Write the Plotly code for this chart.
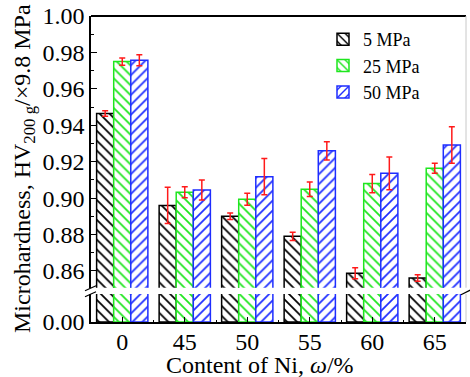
import plotly.graph_objects as go

categories = ["0", "45", "50", "55", "60", "65"]
series_names = ["5 MPa", "25 MPa", "50 MPa"]
hv_5 = [0.9465, 0.896, 0.890, 0.879, 0.8588, 0.8561]
hv_25 = [0.975, 0.9032, 0.8994, 0.9049, 0.908, 0.9164]
hv_50 = [0.9757, 0.9045, 0.9118, 0.926, 0.9136, 0.9292]
err_5 = [0.0015, 0.010, 0.0018, 0.0022, 0.003, 0.0018]
err_25 = [0.002, 0.003, 0.0033, 0.004, 0.005, 0.0027]
err_50 = [0.003, 0.0055, 0.010, 0.005, 0.009, 0.010]

values = [hv_5, hv_25, hv_50]
errors = [err_5, err_25, err_50]
colors = ["#000000", "#1ee61e", "#1e2dff"]
shapes_pat = ["\\", "\\", "/"]

FONT = "Times New Roman"
xpos = list(range(len(categories)))

fig = go.Figure()
for i in range(3):
    common = dict(
        x=xpos, y=values[i], offsetgroup=str(i),
        marker=dict(color="white", line=dict(color=colors[i], width=1.5),
                    pattern=dict(shape=shapes_pat[i], fgcolor=colors[i], bgcolor="white",
                                 size=7, solidity=0.25)),
    )
    fig.add_trace(go.Bar(name=series_names[i], xaxis="x", yaxis="y",
                         error_y=dict(type="data", array=errors[i], color="#ff1a1a",
                                      thickness=1.5, width=3),
                         **common))
    fig.add_trace(go.Bar(name=series_names[i], xaxis="x", yaxis="y2",
                         showlegend=False, **common))

L = 91; R = 466; T = 16; B = 322.3
W = 470; H = 377
pw = R - L; ph = B - T
top_lo = (B - 288) / ph
bot_hi = (B - 294.3) / ph

def px2x(px):
    return (px - L) / pw

def px2y(py):
    return (B - py) / ph

fig.update_layout(
    template="none",
    width=W, height=H,
    margin=dict(l=L, r=W - R, t=T, b=H - B),
    paper_bgcolor="white", plot_bgcolor="white",
    barmode="group", bargap=0.18, bargroupgap=0,
    font=dict(family=FONT, size=24, color="black"),
    showlegend=True,
    legend=dict(x=px2x(323), y=px2y(21), xanchor="left", yanchor="top",
                bgcolor="rgba(0,0,0,0)", font=dict(family=FONT, size=18, color="black"),
                tracegroupgap=0, itemwidth=30),
    xaxis=dict(
        anchor="y2", range=[-0.5, 5.5], tickvals=xpos, ticktext=categories,
        showline=True, linecolor="black", linewidth=1.5,
        ticks="inside", ticklen=5, tickwidth=1, tickcolor="black",
        minor=dict(tick0=0.5, dtick=1, ticks="inside", ticklen=2, tickcolor="black"),
        showgrid=False, zeroline=False, ticklabelstandoff=-3,
        tickfont=dict(family=FONT, size=24),
    ),
    yaxis=dict(
        domain=[top_lo, 1], range=[0.8508, 1.0], tickvals=[0.86, 0.88, 0.90, 0.92, 0.94, 0.96, 0.98, 1.00],
        tickformat=".2f", showline=True, linecolor="black", linewidth=1.5,
        ticks="inside", ticklen=6, tickwidth=1, tickcolor="black",
        minor=dict(dtick=0.01, tick0=0, ticks="inside", ticklen=3, tickcolor="black"),
        showgrid=False, zeroline=False, tickfont=dict(family=FONT, size=24),
    ),
    yaxis2=dict(
        domain=[0, bot_hi], range=[0, 0.01], tickvals=[0], ticktext=["0.00"],
        showline=True, linecolor="black", linewidth=1.5,
        ticks="inside", ticklen=6, tickwidth=1, tickcolor="black",
        showgrid=False, zeroline=False, tickfont=dict(family=FONT, size=24),
    ),
)

shapes = [
    dict(type="line", xref="paper", yref="paper", x0=0, x1=1, y0=1, y1=1,
         line=dict(color="black", width=2)),
    dict(type="line", xref="paper", yref="paper", x0=1, x1=1, y0=top_lo, y1=1,
         line=dict(color="#c8c8c8", width=1)),
    dict(type="line", xref="paper", yref="paper", x0=1, x1=1, y0=0, y1=bot_hi,
         line=dict(color="#c8c8c8", width=1)),
    dict(type="line", xref="paper", yref="paper", x0=px2x(85), x1=px2x(96), y0=px2y(291), y1=px2y(286),
         line=dict(color="black", width=1.2)),
    dict(type="line", xref="paper", yref="paper", x0=px2x(85), x1=px2x(96), y0=px2y(297), y1=px2y(292),
         line=dict(color="black", width=1.2)),
    dict(type="line", xref="paper", yref="paper", x0=px2x(461), x1=px2x(471), y0=px2y(295), y1=px2y(290),
         line=dict(color="black", width=1.2)),
]
fig.update_layout(shapes=shapes)

fig.add_annotation(
    text="Microhardness, HV<sub>200 g</sub>/×9.8 MPa",
    xref="paper", yref="paper", x=px2x(24), y=0.5, xanchor="center", yanchor="middle",
    textangle=-90, showarrow=False, font=dict(family=FONT, size=24),
)
fig.add_annotation(
    text="Content of Ni, <i>ω</i>/%",
    xref="paper", yref="paper", x=px2x(260), y=px2y(365), xanchor="center", yanchor="middle",
    showarrow=False, font=dict(family=FONT, size=24),
)

fig.write_html("out.html")
